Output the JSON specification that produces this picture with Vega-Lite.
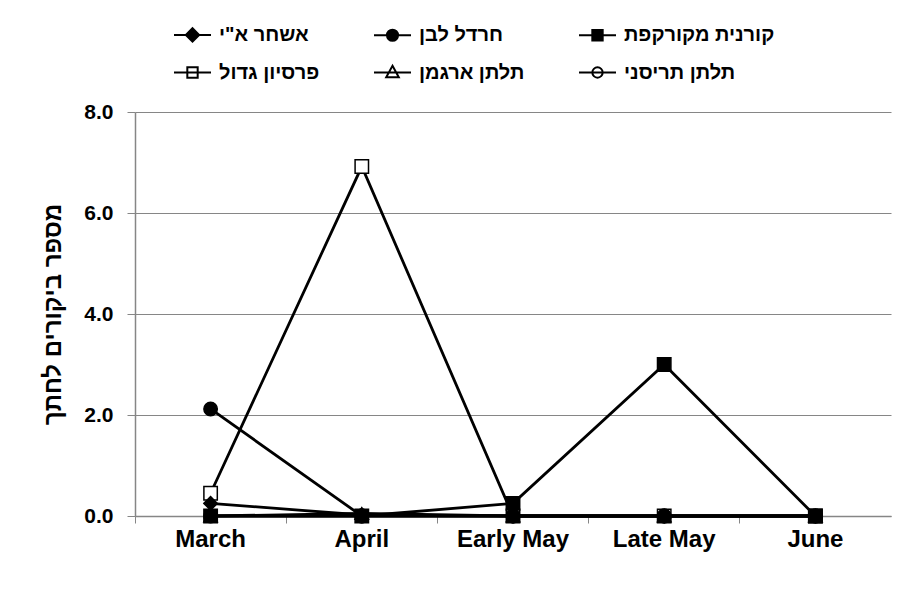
{
  "$schema": "https://vega.github.io/schema/vega-lite/v6.json",
  "width": 756,
  "height": 404,
  "autosize": {"type": "none"},
  "padding": {"left": 135, "top": 112, "right": 13, "bottom": 78},
  "background": "white",
  "config": {"view": {"stroke": null}, "font": "Liberation Sans"},
  "data": {
    "values": [
      {"species": "פרסיון גדול", "period": "March", "value": 0.45},
      {"species": "פרסיון גדול", "period": "April", "value": 6.92},
      {"species": "פרסיון גדול", "period": "Early May", "value": 0},
      {"species": "פרסיון גדול", "period": "Late May", "value": 0},
      {"species": "פרסיון גדול", "period": "June", "value": 0},
      {"species": "תלתן ארגמן", "period": "March", "value": 0},
      {"species": "תלתן ארגמן", "period": "April", "value": 0.05},
      {"species": "תלתן ארגמן", "period": "Early May", "value": 0},
      {"species": "תלתן ארגמן", "period": "Late May", "value": 0},
      {"species": "תלתן ארגמן", "period": "June", "value": 0},
      {"species": "תלתן תריסני", "period": "March", "value": 0},
      {"species": "תלתן תריסני", "period": "April", "value": 0},
      {"species": "תלתן תריסני", "period": "Early May", "value": 0},
      {"species": "תלתן תריסני", "period": "Late May", "value": 0},
      {"species": "תלתן תריסני", "period": "June", "value": 0},
      {"species": "אשחר א\"י", "period": "March", "value": 0.25},
      {"species": "אשחר א\"י", "period": "April", "value": 0.02},
      {"species": "אשחר א\"י", "period": "Early May", "value": 0},
      {"species": "אשחר א\"י", "period": "Late May", "value": 0},
      {"species": "אשחר א\"י", "period": "June", "value": 0},
      {"species": "חרדל לבן", "period": "March", "value": 2.12},
      {"species": "חרדל לבן", "period": "April", "value": 0},
      {"species": "חרדל לבן", "period": "Early May", "value": 0},
      {"species": "חרדל לבן", "period": "Late May", "value": 0},
      {"species": "חרדל לבן", "period": "June", "value": 0},
      {"species": "קורנית מקורקפת", "period": "March", "value": 0},
      {"species": "קורנית מקורקפת", "period": "April", "value": 0},
      {"species": "קורנית מקורקפת", "period": "Early May", "value": 0.25},
      {"species": "קורנית מקורקפת", "period": "Late May", "value": 3.0},
      {"species": "קורנית מקורקפת", "period": "June", "value": 0}
    ]
  },
  "encoding": {
    "x": {
      "field": "period",
      "type": "nominal",
      "sort": null,
      "scale": {"type": "band", "domain": ["March", "April", "Early May", "Late May", "June"], "paddingInner": 0, "paddingOuter": 0},
      "axis": {
        "title": null,
        "labelAngle": 0,
        "labelFont": "Liberation Sans",
        "labelFontSize": 24,
        "labelFontWeight": "bold",
        "labelColor": "black",
        "labelPadding": 4,
        "tickSize": 7,
        "tickColor": "#868686",
        "domainColor": "#868686",
        "domainWidth": 1.5,
        "bandPosition": 0,
        "grid": false
      }
    },
    "y": {
      "field": "value",
      "type": "quantitative",
      "scale": {"domain": [0, 8], "nice": false},
      "axis": {
        "values": [0, 2, 4, 6, 8],
        "format": ".1f",
        "title": "מספר ביקורים לחתך",
        "titleFont": "Liberation Sans",
        "titleFontSize": 24,
        "titleFontWeight": "bold",
        "titleColor": "black",
        "titlePadding": 18,
        "labelFont": "Liberation Sans",
        "labelFontSize": 21,
        "labelFontWeight": "bold",
        "labelColor": "black",
        "labelPadding": 14,
        "tickSize": 8,
        "tickColor": "#868686",
        "domainColor": "#868686",
        "domainWidth": 1.5,
        "grid": true,
        "gridColor": "#868686",
        "gridWidth": 1
      }
    }
  },
  "layer": [
    {
      "mark": {"type": "line", "color": "black", "strokeWidth": 2.8},
      "encoding": {"detail": {"field": "species"}}
    },
    {
      "mark": {"type": "point", "filled": true, "stroke": "black", "strokeWidth": 1.5, "opacity": 1, "size": 180},
      "encoding": {
        "shape": {
          "field": "species",
          "scale": {
            "domain": ["אשחר א\"י", "חרדל לבן", "קורנית מקורקפת", "פרסיון גדול", "תלתן ארגמן", "תלתן תריסני"],
            "range": ["diamond", "circle", "square", "square", "triangle-up", "circle"]
          },
          "legend": null
        },
        "fill": {
          "field": "species",
          "scale": {
            "domain": ["אשחר א\"י", "חרדל לבן", "קורנית מקורקפת", "פרסיון גדול", "תלתן ארגמן", "תלתן תריסני"],
            "range": ["black", "black", "black", "white", "white", "white"]
          },
          "legend": null
        }
      }
    },
    {
      "mark": {"type": "point", "filled": true, "stroke": "black", "strokeWidth": 2, "opacity": 0, "size": 1369},
      "encoding": {
        "shape": {
          "field": "species",
          "scale": {
            "domain": ["אשחר א\"י", "חרדל לבן", "קורנית מקורקפת", "פרסיון גדול", "תלתן ארגמן", "תלתן תריסני"],
            "range": [
              "M-1,0L1,0M0,-0.36L0.36,0L0,0.36L-0.36,0Z",
              "M-1,0L1,0M-0.3,0A0.3,0.3,0,1,1,0.3,0A0.3,0.3,0,1,1,-0.3,0Z",
              "M-1,0L1,0M-0.28,-0.28L0.28,-0.28L0.28,0.28L-0.28,0.28Z",
              "M-1,0L1,0M-0.28,-0.28L0.28,-0.28L0.28,0.28L-0.28,0.28Z",
              "M-1,0L1,0M0,-0.36L0.34,0.26L-0.34,0.26Z",
              "M-1,0L1,0M-0.28,0A0.28,0.28,0,1,1,0.28,0A0.28,0.28,0,1,1,-0.28,0Z"
            ]
          },
          "legend": {
            "title": null,
            "orient": "none",
            "legendX": 38,
            "legendY": -97,
            "direction": "horizontal",
            "columns": 3,
            "columnPadding": 50,
            "rowPadding": 7,
            "gridAlign": "each",
            "symbolSize": 1369,
            "symbolStrokeWidth": 2,
            "symbolStrokeColor": "black",
            "symbolOpacity": 1,
            "labelFont": "Liberation Sans",
            "labelFontSize": 20,
            "labelFontWeight": "bold",
            "labelColor": "black",
            "labelOffset": 7,
            "labelLimit": 300,
            "encode": {"symbols": {"update": {"opacity": {"value": 1}, "stroke": {"value": "black"}, "strokeWidth": {"value": 2}}}}
          }
        },
        "fill": {
          "field": "species",
          "scale": {
            "domain": ["אשחר א\"י", "חרדל לבן", "קורנית מקורקפת", "פרסיון גדול", "תלתן ארגמן", "תלתן תריסני"],
            "range": ["black", "black", "black", "white", "white", "white"]
          },
          "legend": {
            "title": null,
            "orient": "none",
            "legendX": 38,
            "legendY": -97,
            "direction": "horizontal",
            "columns": 3,
            "columnPadding": 50,
            "rowPadding": 7,
            "gridAlign": "each",
            "symbolSize": 1369,
            "symbolStrokeWidth": 2,
            "symbolStrokeColor": "black",
            "symbolOpacity": 1,
            "labelFont": "Liberation Sans",
            "labelFontSize": 20,
            "labelFontWeight": "bold",
            "labelColor": "black",
            "labelOffset": 7,
            "labelLimit": 300,
            "encode": {"symbols": {"update": {"opacity": {"value": 1}, "stroke": {"value": "black"}, "strokeWidth": {"value": 2}}}}
          }
        }
      }
    }
  ],
  "resolve": {"scale": {"shape": "independent", "fill": "independent"}}
}
